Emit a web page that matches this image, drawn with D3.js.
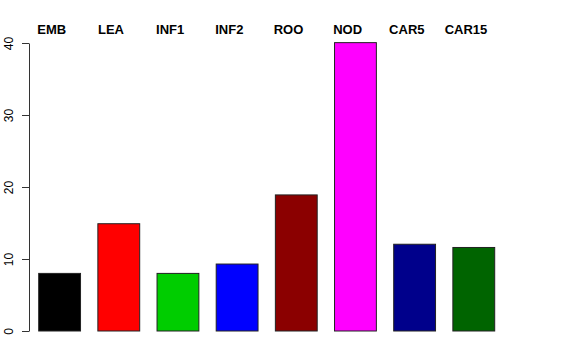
<!DOCTYPE html>
<html>
<head>
<meta charset="utf-8">
<script src="https://cdn.jsdelivr.net/npm/d3@7"></script>
<style>
  body { margin: 0; background: #fff; }
  svg { display: block; font-family: "Liberation Sans", Arial, Helvetica, sans-serif; }
</style>
</head>
<body>
<svg width="576" height="360"></svg>
<script>
// data
var categories = ["EMB", "LEA", "INF1", "INF2", "ROO", "NOD", "CAR5", "CAR15"];
var values = [8.0, 14.9, 8.0, 9.3, 18.9, 40.05, 12.05, 11.6];
var colors = ["#000000", "#ff0000", "#00cd00", "#0000ff", "#8b0000", "#ff00ff", "#00008b", "#006400"];
var yTicks = [0, 10, 20, 30, 40];

var svg = d3.select("svg");

var x = d3.scaleBand()
  .domain(categories)
  .range([38.7, 494.7])
  .paddingInner(0.293)
  .paddingOuter(0);

var y = d3.scaleLinear()
  .domain([0, 40])
  .range([331, 43]);

// bars
svg.selectAll("rect.bar")
  .data(categories)
  .enter()
  .append("rect")
  .attr("class", "bar")
  .attr("x", function(d) { return x(d); })
  .attr("y", function(d, i) { return y(values[i]); })
  .attr("width", x.bandwidth())
  .attr("height", function(d, i) { return y(0) - y(values[i]); })
  .style("fill", function(d, i) { return colors[i]; })
  .style("stroke", "#222")
  .style("stroke-width", 1);

// labels on top (sit a bit left of bar centres, like the original)
svg.selectAll("text.cat")
  .data(categories)
  .enter()
  .append("text")
  .attr("class", "cat")
  .attr("x", function(d) { return x(d) + x.bandwidth() / 2 - 7.8; })
  .attr("y", 34)
  .attr("text-anchor", "middle")
  .style("font-size", "13px")
  .style("font-weight", "bold")
  .text(function(d) { return d; });

// y axis
var yAxis = d3.axisLeft(y)
  .tickValues(yTicks)
  .tickSize(7)
  .tickPadding(0)
  .tickSizeOuter(0);

var g = svg.append("g")
  .attr("transform", "translate(29,0)")
  .call(yAxis);

g.select(".domain").attr("stroke", "#333");
g.selectAll(".tick line").attr("stroke", "#333");
g.selectAll(".tick text")
  .attr("x", 0)
  .attr("dy", 0)
  .attr("text-anchor", "middle")
  .attr("transform", "translate(-16.5,0) rotate(-90)")
  .style("font-size", "12px")
  .style("font-family", "'Liberation Sans', Arial, sans-serif")
  .attr("fill", "#000");
</script>
</body>
</html>
